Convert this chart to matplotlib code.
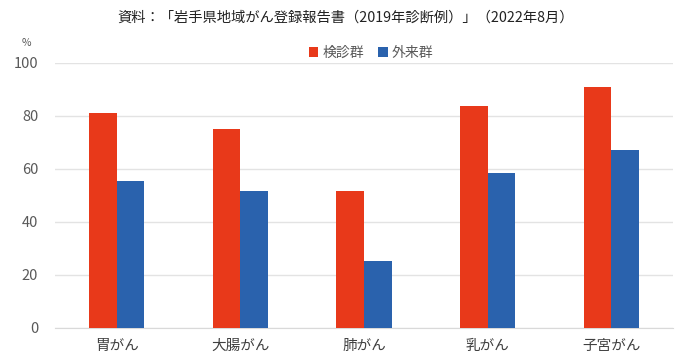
import matplotlib
matplotlib.use("Agg")
import matplotlib.pyplot as plt
import numpy as np

plt.rcParams['font.family'] = ['Noto Sans CJK JP', 'DejaVu Sans']

categories = ["胃がん", "大腸がん", "肺がん", "乳がん", "子宮がん"]
series_names = ["検診群", "外来群"]
screening = [81.2, 75.0, 51.6, 83.8, 91.1]
outpatient = [55.6, 51.7, 25.3, 58.4, 67.0]
yticks = [0, 20, 40, 60, 80, 100]
title = "資料：「岩手県地域がん登録報告書（2019年診断例）」（2022年8月）"

red = "#E8391A"
blue = "#2A62AD"
gray = "#595959"

fig = plt.figure(figsize=(6.82, 3.62), dpi=100)
ax = fig.add_axes([0.0806, 0.094, 0.9064, 0.732])

x = np.arange(len(categories))
w = 0.223
ax.bar(x - w/2, screening, w, color=red, label=series_names[0], zorder=3)
ax.bar(x + w/2, outpatient, w, color=blue, label=series_names[1], zorder=3)

ax.set_xlim(-0.5, len(categories) - 0.5)
ax.set_ylim(0, 100)
ax.set_yticks(yticks)
ax.set_yticklabels([str(v) for v in yticks], fontsize=10.5, color=gray)
ax.set_xticks(x)
ax.set_xticklabels(categories, fontsize=10.5, color="#404040")
ax.tick_params(axis='both', length=0)
ax.tick_params(axis='y', pad=12)
ax.tick_params(axis='x', pad=8)
ax.grid(axis='y', color="#E3E3E3", linewidth=1.0, zorder=0)
for s in ['top', 'right', 'left']:
    ax.spines[s].set_visible(False)
ax.spines['bottom'].set_color("#D9D9D9")

fig.text(0.032, 0.88, "%", fontsize=7.5, color=gray, ha='left', va='center')
fig.text(0.507, 0.95, title, fontsize=10.3, color="#222222", ha='center', va='center')

leg = fig.legend(loc='center', bbox_to_anchor=(0.544, 0.853), ncol=2, frameon=False,
                 fontsize=10, handlelength=0.7, handleheight=0.7, handletextpad=0.3,
                 columnspacing=1.0)
for t in leg.get_texts():
    t.set_color(gray)

fig.savefig("out.png", dpi=100)
